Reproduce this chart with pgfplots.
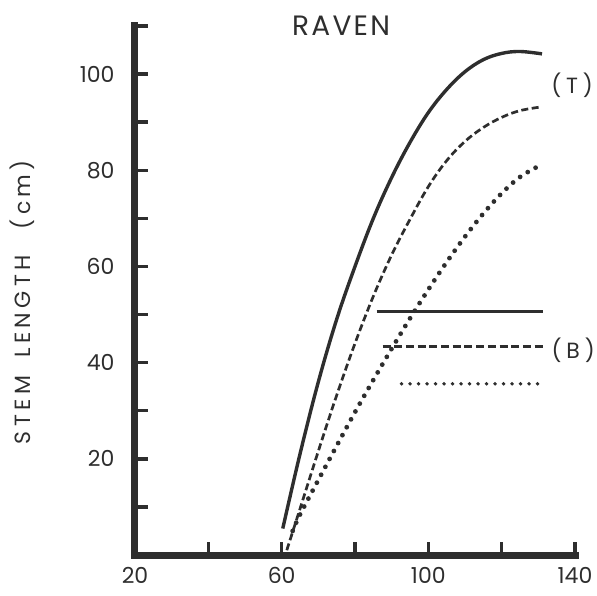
\documentclass[border=0pt]{standalone}
\usepackage{fontspec}
\setmainfont{Poppins}
\usepackage{pgfplots}
\pgfplotsset{compat=1.18}
\definecolor{ink}{gray}{0.18}
\begin{document}
\begin{tikzpicture}
\begin{axis}[
  at={(0pt,0pt)}, anchor=south west,
  width=440pt, height=529pt, scale only axis,
  xmin=20, xmax=140, ymin=0, ymax=110,
  axis x line=bottom, axis y line=left,
  axis line style={-, line width=7pt, draw=ink, line cap=rect},
  xtick={20,40,...,140}, xticklabels={20,,60,,100,,140},
  ytick={10,20,...,110}, yticklabels={,20,,40,,60,,80,,100,},
  tick align=inside, major tick length=13pt,
  every tick/.style={line width=3.5pt, draw=ink},
  tick label style={font=\fontsize{22}{22}\selectfont, text=ink},
  xticklabel style={yshift=-9pt},
  yticklabel style={xshift=-17pt},
  clip=false,
]
% (T) curves
\addplot[ink, line width=3.4pt, smooth, tension=0.6] coordinates {
 (60.3,5.5) (65,21) (70,36) (75,49) (80,60) (85,70) (90,78.5) (95,85.8) (100,92) (105,96.8) (110,100.5) (115,103) (120,104.3) (125,104.7) (131,104.2)};
\addplot[ink, line width=2.7pt, smooth, tension=0.6, dash pattern=on 7pt off 3.5pt] coordinates {
 (61.4,1) (65,9.6) (70,21.6) (75,33.2) (80,44) (85,53.8) (90,62.4) (95,69.8) (100,76.6) (105,82) (110,86) (115,88.9) (120,91) (125,92.4) (131,93.2)};
\addplot[ink, line width=4.8pt, line cap=round, smooth, tension=0.6, dash pattern=on 0pt off 9pt] coordinates {
 (63,5) (65,8.4) (70,15.6) (75,22.7) (80,29.7) (85,36.4) (90,42.9) (95,49.2) (100,55.2) (105,60.9) (110,66.2) (115,71) (120,75.2) (125,78.6) (130.4,81)};
% (B) lines
\addplot[ink, line width=2.8pt] coordinates {(85.9,50.6) (131.2,50.6)};
\addplot[ink, line width=3.2pt, dash pattern=on 8pt off 3.7pt] coordinates {(87.5,43.3) (131.2,43.3)};
\addplot[ink, line width=3.8pt, line cap=round, dash pattern=on 0pt off 8.5pt] coordinates {(92.7,35.6) (130.4,35.6)};
% labels
\node[font=\fontsize{28}{28}\selectfont\addfontfeature{LetterSpace=8}, text=ink] at (axis cs:76.2,110) {RAVEN};
\node[font=\fontsize{22}{22}\selectfont\addfontfeature{LetterSpace=22}, text=ink] at (axis cs:139.2,97.7) {(T)};
\node[font=\fontsize{22}{22}\selectfont\addfontfeature{LetterSpace=22}, text=ink] at (axis cs:139.5,42.6) {(B)};
\node[rotate=90, font=\fontsize{22}{22}\selectfont\addfontfeature{LetterSpace=20}, text=ink] at (axis description cs:-0.2568,0.478) {STEM\hspace{18pt}LENGTH\hspace{26pt}(cm)};
\end{axis}
\pgfresetboundingbox
\path[use as bounding box] (-135pt,-40pt) rectangle (462pt,555pt);
\end{tikzpicture}
\end{document}
